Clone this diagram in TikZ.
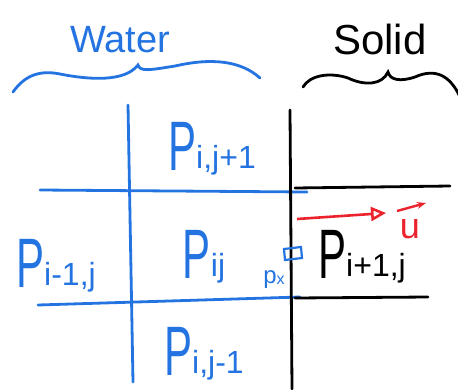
\documentclass[tikz,border=0pt]{standalone}
\usepackage{fontspec}
\setmainfont{Liberation Sans}
\usepackage{graphicx}
\usetikzlibrary{arrows.meta}
\definecolor{penblue}{RGB}{35,115,225}
\definecolor{penred}{RGB}{235,35,45}
\newcommand{\bigP}{{\fontsize{70}{70}\selectfont\scalebox{0.6}[1]{P}}}
\newcommand{\pl}[1]{\bigP{\fontsize{32}{32}\selectfont\raisebox{2pt}{#1}}}
\begin{document}
\begin{tikzpicture}[x=1pt,y=-1pt,
  bl/.style={draw=penblue,line width=2.8pt,line cap=round},
  bk/.style={draw=black,line width=2.8pt,line cap=round},
  lab/.style={inner sep=0pt,anchor=base}]
\useasboundingbox (0,0) rectangle (458,389);
% headings
\node[lab,text=penblue] (water) at (120,52) {\fontsize{38}{38}\selectfont Water};
\node[lab] (solid) at (380,54) {\fontsize{42}{42}\selectfont Solid};
% braces
\draw[bl] (13,92) .. controls (25,75) and (40,70) .. (60,74)
  .. controls (90,80) and (125,82) .. (138,65)
  .. controls (140,72) and (150,70) .. (175,66)
  .. controls (210,58) and (240,60) .. (260,78);
\draw[bk] (303,87) .. controls (310,75) and (330,72) .. (348,78)
  .. controls (365,86) and (382,85) .. (388,72)
  .. controls (390,80) and (400,82) .. (415,77)
  .. controls (435,68) and (450,75) .. (460,97);
% grid lines
\draw[bl] (128,105) -- (133,382);
\draw[bl] (40,190) -- (307,192);
\draw[bl] (38,305) -- (300,297);
\draw[bk] (290,110) -- (292,389);
\draw[bk] (295,188) -- (450,186);
\draw[bk] (295,298) -- (428,297);
% labels
\node[lab,text=penblue] (pup) at (212,170) {\pl{i,j+1}};
\node[lab,text=penblue] (pc) at (204,278) {\pl{ij}};
\node[lab,text=penblue] (pl) at (56,287) {\pl{i-1,j}};
\node[lab,text=penblue] (pdn) at (204,375) {\pl{i,j-1}};
\node[lab] (pr) at (362,278) {\pl{i+1,j}};
\node[lab,text=penblue] (px) at (274,283) {\fontsize{24}{24}\selectfont p\raisebox{-1pt}{\fontsize{16}{16}\selectfont x}};
% small interface box
\draw[draw=penblue,line width=2.2pt] (284,249) -- (301,247) -- (302,258) -- (285,260) -- cycle;
% velocity
\coordinate (ua) at (297,219);
\coordinate (ub) at (386,213);
\node[lab,text=penred] (u) at (410,238) {\fontsize{36}{36}\selectfont u};
\draw[draw=penred,line width=2.6pt,-{Triangle[open,length=15pt,width=14pt]}] (ua) -- (ub);
\draw[draw=penred,line width=2.4pt,-{Stealth[length=9pt]}] (397,211) -- (426,203);
\end{tikzpicture}
\end{document}
